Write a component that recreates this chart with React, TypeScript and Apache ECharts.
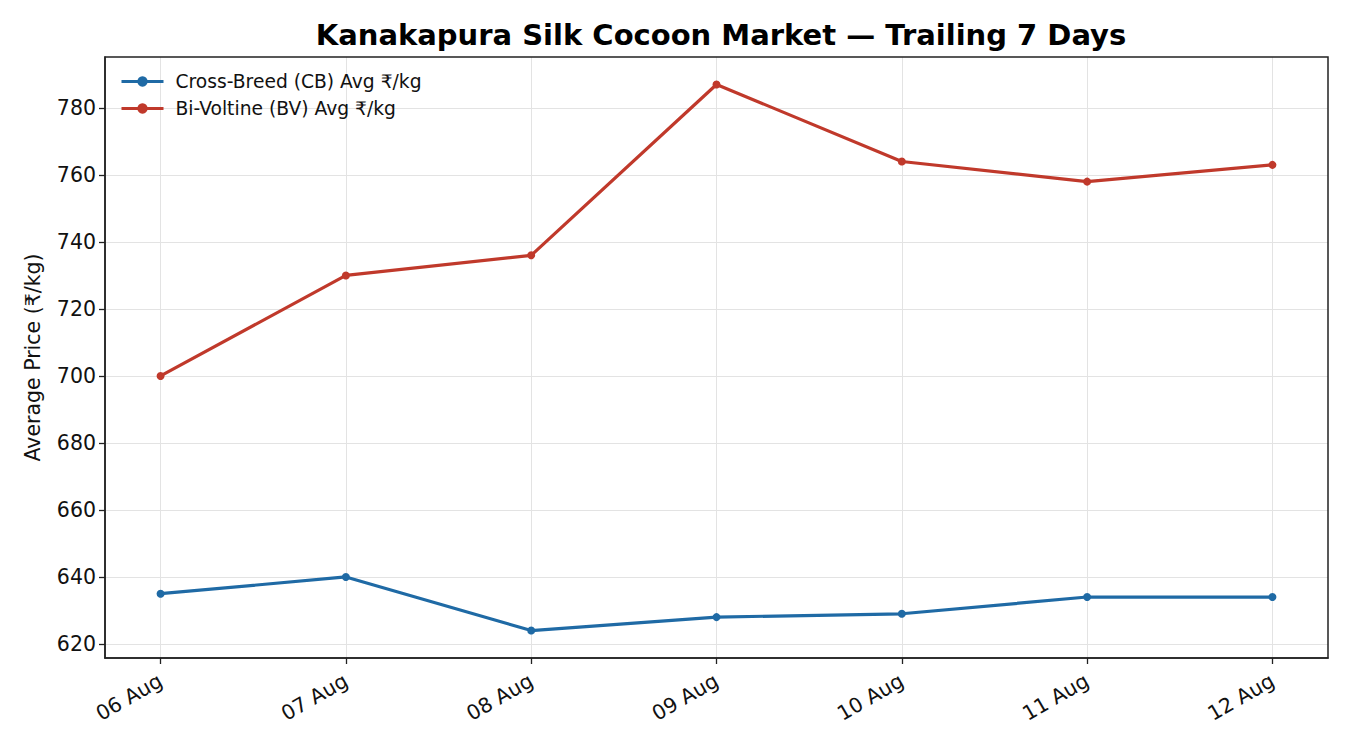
import React, { useEffect, useRef } from "react";
import * as echarts from "echarts";

const categories = ["06 Aug", "07 Aug", "08 Aug", "09 Aug", "10 Aug", "11 Aug", "12 Aug"];
const cbValues = [635, 640, 624, 628, 629, 634, 634];
const bvValues = [700, 730, 736, 787, 764, 758, 763];
const yTicks = [620, 640, 660, 680, 700, 720, 740, 760, 780];
const xTicks = [0, 1, 2, 3, 4, 5, 6];

const FONT = "DejaVu Sans";

export default function App() {
  const ref = useRef<HTMLDivElement>(null);
  useEffect(() => {
    if (!ref.current) return;
    const chart = echarts.init(ref.current, undefined, { renderer: "svg" });
    const toPairs = (vals: number[]) => vals.map((v, i) => [i, v]);
    chart.setOption({
      animation: false,
      backgroundColor: "#ffffff",
      textStyle: { fontFamily: FONT },
      title: {
        text: "Kanakapura Silk Cocoon Market — Trailing 7 Days",
        left: 716,
        textAlign: "center",
        top: 15,
        textStyle: { fontFamily: FONT, fontSize: 29, fontWeight: "bold", color: "#000" },
      },
      legend: {
        orient: "vertical",
        left: 115,
        top: 67,
        itemWidth: 42,
        itemHeight: 13,
        itemGap: 8,
        lineStyle: { width: 3 },
        textStyle: { fontFamily: FONT, fontSize: 18.7, color: "#111", padding: [0, 0, 0, 7] },
        data: ["Cross-Breed (CB) Avg ₹/kg", "Bi-Voltine (BV) Avg ₹/kg"],
      },
      grid: { left: 105, right: 22, top: 57, bottom: 92, containLabel: false },
      xAxis: {
        type: "value",
        min: -0.3,
        max: 6.3,
        axisLine: { show: true, onZero: false, lineStyle: { color: "#222", width: 1.5 } },
        axisTick: {
          show: true,
          length: 6,
          customValues: xTicks,
          lineStyle: { color: "#222", width: 1.3 },
        },
        axisLabel: {
          customValues: xTicks,
          rotate: 30,
          margin: 21,
          fontFamily: FONT,
          fontSize: 20.5,
          color: "#111",
          formatter: (v: number) => {
            const i = Math.round(v);
            return Math.abs(v - i) < 1e-6 ? categories[i] ?? "" : "";
          },
        },
        splitLine: { show: true, lineStyle: { color: "#e3e3e3", width: 1 } },
      },
      yAxis: {
        type: "value",
        min: 615.8,
        max: 795.2,
        splitNumber: 9,
        name: "Average Price (₹/kg)",
        nameLocation: "middle",
        nameGap: 62,
        nameTextStyle: { fontFamily: FONT, fontSize: 20.5, color: "#111" },
        axisLine: { show: true, onZero: false, lineStyle: { color: "#222", width: 1.5 } },
        axisTick: {
          show: true,
          length: 6,
          customValues: yTicks,
          lineStyle: { color: "#222", width: 1.3 },
        },
        axisLabel: {
          customValues: yTicks,
          margin: 9,
          fontFamily: FONT,
          fontSize: 20.5,
          color: "#111",
        },
        splitLine: { show: true, lineStyle: { color: "#e3e3e3", width: 1 } },
      },
      graphic: [
        {
          type: "rect",
          shape: { x: 105, y: 57, width: 1223, height: 601 },
          style: { fill: "none", stroke: "#222", lineWidth: 1.5 },
          silent: true,
          z: 100,
        },
      ],
      series: [
        {
          name: "Cross-Breed (CB) Avg ₹/kg",
          type: "line",
          data: toPairs(cbValues),
          symbol: "circle",
          symbolSize: 8,
          showSymbol: true,
          itemStyle: { color: "#1f6aa5" },
          lineStyle: { color: "#1f6aa5", width: 3.2 },
        },
        {
          name: "Bi-Voltine (BV) Avg ₹/kg",
          type: "line",
          data: toPairs(bvValues),
          symbol: "circle",
          symbolSize: 8,
          showSymbol: true,
          itemStyle: { color: "#c0392b" },
          lineStyle: { color: "#c0392b", width: 3.2 },
        },
      ],
    });
    return () => chart.dispose();
  }, []);
  return (
    <div
      ref={ref}
      style={{ position: "fixed", left: 0, top: 0, width: 1350, height: 750 }}
    />
  );
}
